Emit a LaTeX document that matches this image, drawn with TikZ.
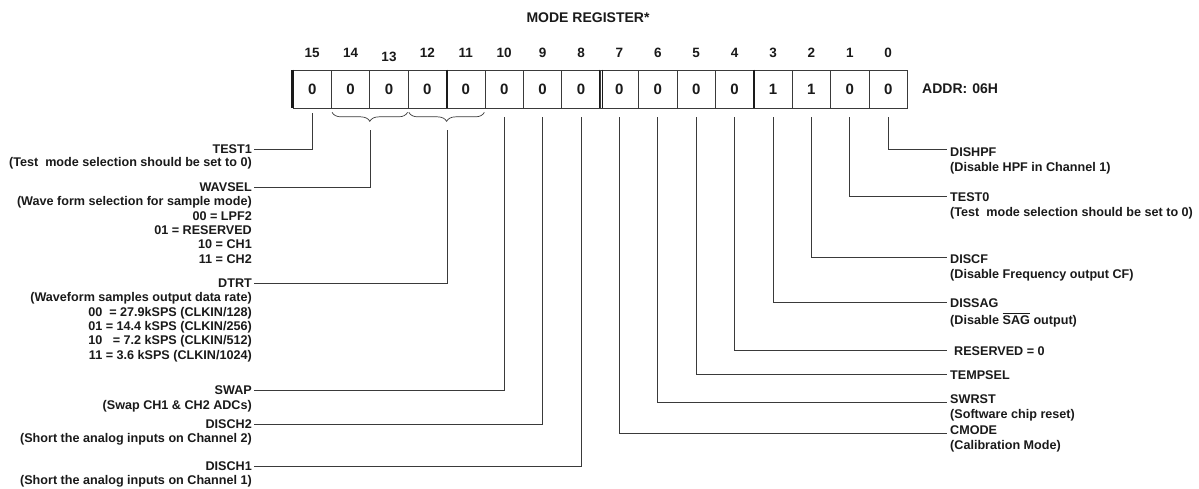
\documentclass[tikz,border=0pt]{standalone}
\usepackage{fontspec}
\setmainfont{Liberation Sans}
\usetikzlibrary{decorations.pathreplacing}
\definecolor{ink}{HTML}{1A1A1A}
\definecolor{wire}{HTML}{3A3A3A}
\newcommand{\highbar}[1]{\setbox0\hbox{#1}\rlap{\rule[11pt]{\wd0}{0.6pt}}\box0\relax}
\begin{document}
\begin{tikzpicture}[x=1pt,y=-1pt,
  every node/.style={text=ink, font=\bfseries\fontsize{12.6}{14.4}\selectfont, inner sep=0pt},
  cell/.style={draw=wire, line width=0.7pt, minimum width=38.4pt, minimum height=38pt,
    font=\bfseries\fontsize{15}{17}\selectfont, text height=10.8pt, text depth=0pt},
  bitnum/.style={font=\bfseries\fontsize{13.5}{16}\selectfont},
  lname/.style={anchor=east, inner xsep=2pt, text height=9pt, text depth=0pt},
  rname/.style={anchor=west, inner xsep=3pt, text height=9pt, text depth=0pt},
  ldesc/.style={anchor=north east, align=right},
  rdesc/.style={anchor=north west, align=left},
  conn/.style={draw=wire, line width=0.8pt},
  sep/.style={draw=ink, line width=2.6pt},
  curly/.style={draw=wire, line width=0.7pt, decorate, decoration={brace, amplitude=9pt}}
]
\useasboundingbox[fill=white] (0,0) rectangle (1199,489);

% title
\node[font=\bfseries\fontsize{14}{16}\selectfont] (title) at (588,18) {MODE REGISTER*};

% register cells
\foreach \b/\v in {15/0,14/0,13/0,12/0,11/0,10/0,9/0,8/0,7/0,6/0,5/0,4/0,3/1,2/1,1/0,0/0}{
  \node[cell] (c\b) at ({312.2+38.4*(15-\b)},89) {\v};
}
\foreach \b in {15,14,12,11,10,9,8,7,6,5,4,3,2,1,0}{
  \node[bitnum] (n\b) at ({312.2+38.4*(15-\b)},53) {\b};
}
\node[bitnum] (n13) at ({312.2+38.4*2},57) {13};

% heavy separators
\draw[sep] (c15.north west) -- (c15.south west);
\draw[sep] (c12.north east) -- (c12.south east);
\draw[sep] (c4.north east) -- (c4.south east);
\draw[draw=ink, line width=0.9pt] ([xshift=-1.4pt]c8.north east) -- ([xshift=-1.4pt]c8.south east);
\draw[draw=ink, line width=0.9pt] ([xshift=1.4pt]c8.north east) -- ([xshift=1.4pt]c8.south east);

\node[anchor=west, font=\bfseries\fontsize{14}{16}\selectfont] (addr) at (922,89) {ADDR:\hspace{5pt}06H};

% braces
\draw[curly] ([xshift=-1pt,yshift=-4pt]c13.south east) -- ([xshift=1pt,yshift=-4pt]c14.south west);
\draw[curly] ([xshift=-1pt,yshift=-4pt]c11.south east) -- ([xshift=1pt,yshift=-4pt]c12.south west);

% left labels
\node[lname] (TEST1) at (254,149) {TEST1};
\node[ldesc] (dTEST1) at (252,157.4) {(Test\ \ mode selection should be set to 0)};
\node[lname] (WAVSEL) at (254,187) {WAVSEL};
\node[ldesc] (dWAVSEL) at (252,196.4) {(Wave form selection for sample mode)\\00 = LPF2\\01 = RESERVED\\10 = CH1\\11 = CH2};
\node[lname] (DTRT) at (254,283) {DTRT};
\node[ldesc] (dDTRT) at (252,292.4) {(Waveform samples output data rate)\\00\ \ = 27.9kSPS (CLKIN/128)\\01 = 14.4 kSPS (CLKIN/256)\\10\ \ \ = 7.2 kSPS (CLKIN/512)\\11 = 3.6 kSPS (CLKIN/1024)};
\node[lname] (SWAP) at (254,390) {SWAP};
\node[ldesc] (dSWAP) at (252,400.4) {(Swap CH1 \& CH2 ADCs)};
\node[lname] (DISCH2) at (254,424) {DISCH2};
\node[ldesc] (dDISCH2) at (252,433.4) {(Short the analog inputs on Channel 2)};
\node[lname] (DISCH1) at (254,466) {DISCH1};
\node[ldesc] (dDISCH1) at (252,475.4) {(Short the analog inputs on Channel 1)};

% right labels
\node[rname] (DISHPF) at (947,152) {DISHPF};
\node[rdesc] (dDISHPF) at (950,162) {(Disable HPF in Channel 1)};
\node[rname] (TEST0) at (947,197) {TEST0};
\node[rdesc] (dTEST0) at (950,207) {(Test\ \ mode selection should be set to 0)};
\node[rname] (DISCF) at (947,259) {DISCF};
\node[rdesc] (dDISCF) at (950,269) {(Disable Frequency output CF)};
\node[rname] (DISSAG) at (947,303) {DISSAG};
\node[rdesc] (dDISSAG) at (950,313) {(Disable \highbar{SAG} output)};
\node[rname, inner xsep=0pt] (RES) at (954,351) {RESERVED = 0};
\node[rname] (TEMPSEL) at (947,375) {TEMPSEL};
\node[rname] (SWRST) at (947,399) {SWRST};
\node[rdesc] (dSWRST) at (950,409) {(Software chip reset)};
\node[rname] (CMODE) at (947,430) {CMODE};
\node[rdesc] (dCMODE) at (950,440) {(Calibration Mode)};

% connectors, left
\draw[conn] ([yshift=-5pt]c15.south) |- (TEST1.east);
\draw[conn] ([yshift=-22pt]c14.south east) |- (WAVSEL.east);
\draw[conn] ([yshift=-22pt]c12.south east) |- (DTRT.east);
\draw[conn] ([yshift=-9pt]c10.south) |- (SWAP.east);
\draw[conn] ([yshift=-9pt]c9.south) |- (DISCH2.east);
\draw[conn] ([yshift=-9pt]c8.south) |- (DISCH1.east);
% connectors, right
\draw[conn] ([yshift=-9pt]c0.south) |- ([yshift=3pt]DISHPF.west);
\draw[conn] ([yshift=-9pt]c1.south) |- ([yshift=1pt]TEST0.west);
\draw[conn] ([yshift=-9pt]c2.south) |- ([yshift=2pt]DISCF.west);
\draw[conn] ([yshift=-9pt]c3.south) |- ([yshift=1pt]DISSAG.west);
\draw[conn] ([yshift=-9pt]c4.south) |- ([xshift=-7pt,yshift=1pt]RES.west);
\draw[conn] ([yshift=-9pt]c5.south) |- ([yshift=1pt]TEMPSEL.west);
\draw[conn] ([yshift=-9pt]c6.south) |- ([yshift=-3pt]SWRST.west);
\draw[conn] ([yshift=-9pt]c7.south) |- ([yshift=-3pt]CMODE.west);
\end{tikzpicture}
\end{document}
